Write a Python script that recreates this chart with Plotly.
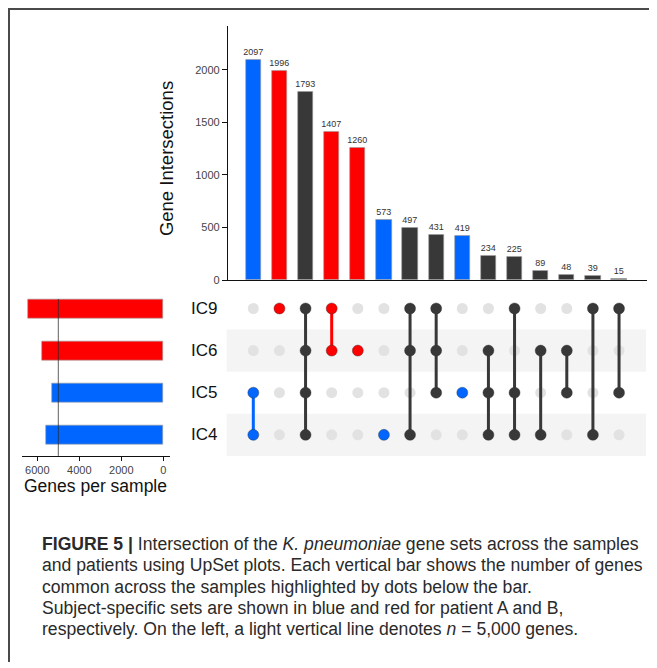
import plotly.graph_objects as go

# ---------------- data ----------------
intersection_sizes = [2097, 1996, 1793, 1407, 1260, 573, 497, 431, 419, 234, 225, 89, 48, 39, 15]
intersection_members = [
    ["IC5", "IC4"],
    ["IC9"],
    ["IC9", "IC6", "IC5", "IC4"],
    ["IC9", "IC6"],
    ["IC6"],
    ["IC4"],
    ["IC9", "IC6", "IC4"],
    ["IC9", "IC6", "IC5"],
    ["IC5"],
    ["IC6", "IC5", "IC4"],
    ["IC9", "IC5", "IC4"],
    ["IC6", "IC4"],
    ["IC6", "IC5"],
    ["IC9", "IC4"],
    ["IC9", "IC5"],
]
intersection_groups = ["A", "B", "shared", "B", "B", "A", "shared", "shared", "A",
                       "shared", "shared", "shared", "shared", "shared", "shared"]
set_names = ["IC4", "IC5", "IC6", "IC9"]          # bottom to top
set_sizes = [5585, 5285, 5790, 6430]
set_groups = ["A", "A", "B", "B"]
reference_n = 5000
top_ticks = [0, 500, 1000, 1500, 2000]
left_ticks = [0, 2000, 4000, 6000]

caption_lines = [
    "<b>FIGURE 5 |</b> Intersection of the <i>K. pneumoniae</i> gene sets across the samples",
    "and patients using UpSet plots. Each vertical bar shows the number of genes",
    "common across the samples highlighted by dots below the bar.",
    "Subject-specific sets are shown in blue and red for patient A and B,",
    "respectively. On the left, a light vertical line denotes <i>n</i> = 5,000 genes.",
]

# ---------------- style ----------------
OFF = 8                      # page body margin
W, H = 657 - OFF, 668 - OFF
COL = {"A": "#0066ff", "B": "#ff0000", "shared": "#383838"}
GRAY_DOT = "#e2e2e2"
BAND = "#f4f4f4"
FONT = "Liberation Sans, Arial, sans-serif"


def px(x):
    return (x - OFF) / W


def py(y):
    return 1 - (y - OFF) / H


cols = list(range(1, len(intersection_sizes) + 1))
xr = [0.031, 16.07]
xdom = [px(228), px(647)]

fig = go.Figure()

# top bars
fig.add_trace(go.Bar(
    x=cols, y=intersection_sizes,
    marker=dict(color=[COL[g] for g in intersection_groups], line=dict(color="#9a9a9a", width=0.6)),
    width=0.58,
    text=[str(v) for v in intersection_sizes], textposition="outside", constraintext="none",
    textfont=dict(size=9, color="#333333", family=FONT),
    cliponaxis=False, xaxis="x", yaxis="y", showlegend=False, hoverinfo="skip",
))

# matrix: grey background dots
gx, gy = [], []
for c, mem in zip(cols, intersection_members):
    for r, s in enumerate(set_names):
        if s not in mem:
            gx.append(c)
            gy.append(r)
fig.add_trace(go.Scatter(x=gx, y=gy, mode="markers",
                         marker=dict(size=11, color=GRAY_DOT),
                         xaxis="x2", yaxis="y2", showlegend=False, hoverinfo="skip"))

# matrix: connecting lines and member dots
for c, mem, g in zip(cols, intersection_members, intersection_groups):
    rows = [set_names.index(s) for s in mem]
    if len(rows) > 1:
        fig.add_trace(go.Scatter(x=[c, c], y=[min(rows), max(rows)], mode="lines",
                                 line=dict(color=COL[g], width=3),
                                 xaxis="x2", yaxis="y2", showlegend=False, hoverinfo="skip"))
    fig.add_trace(go.Scatter(x=[c] * len(rows), y=rows, mode="markers",
                             marker=dict(size=11, color=COL[g], line=dict(color="#333333", width=0.4)),
                             xaxis="x2", yaxis="y2", showlegend=False, hoverinfo="skip"))

# left set-size bars
fig.add_trace(go.Bar(
    x=set_sizes, y=list(range(len(set_names))), orientation="h",
    marker=dict(color=[COL[g] for g in set_groups], line=dict(color="#9a9a9a", width=0.6)),
    width=0.45, xaxis="x3", yaxis="y3", showlegend=False, hoverinfo="skip",
))

shapes = []
# row bands
for r in range(len(set_names)):
    if r % 2 == 0:
        shapes.append(dict(type="rect", xref="x2 domain", yref="y2", x0=-0.003, x1=0.998,
                           y0=r - 0.5, y1=r + 0.5, fillcolor=BAND, line=dict(width=0), layer="below"))
# reference line at n = 5000
shapes.append(dict(type="line", xref="x3", yref="y3", x0=reference_n, x1=reference_n,
                   y0=-0.5, y1=len(set_names) - 1 + 0.225,
                   line=dict(color="rgba(40,40,40,0.75)", width=1)))
# page frame lines
shapes.append(dict(type="line", xref="paper", yref="paper", x0=0, x1=1, y0=py(9), y1=py(9),
                   line=dict(color="#4a4a4a", width=2)))
shapes.append(dict(type="line", xref="paper", yref="paper", x0=px(9), x1=px(9), y0=py(8), y1=0,
                   line=dict(color="#4a4a4a", width=2)))

annotations = []
# set labels
for r, s in enumerate(set_names):
    annotations.append(dict(x=px(219), y=r, xref="paper", yref="y2", text=s, showarrow=False,
                            xanchor="right", yanchor="middle",
                            font=dict(size=17, color="#111111", family=FONT)))
# axis titles
annotations.append(dict(x=px(166.5), y=py(160), xref="paper", yref="paper", text="Gene Intersections",
                        textangle=-90, showarrow=False, xanchor="center", yanchor="middle",
                        font=dict(size=18.5, color="#111111", family=FONT)))
annotations.append(dict(x=px(95), y=py(490), xref="paper", yref="paper", text="Genes per sample",
                        showarrow=False, xanchor="center", yanchor="middle",
                        font=dict(size=17.5, color="#111111", family=FONT)))
# caption
cap_y = [549, 570.5, 592, 613.5, 635]
for t, yy in zip(caption_lines, cap_y):
    annotations.append(dict(x=px(40), y=py(yy), xref="paper", yref="paper", text=t, showarrow=False,
                            xanchor="left", yanchor="middle", align="left",
                            font=dict(size=17.6, color="#2a2a2a", family=FONT)))

fig.update_layout(
    width=W, height=H, margin=dict(l=0, r=0, t=0, b=0),
    paper_bgcolor="white", plot_bgcolor="rgba(0,0,0,0)",
    bargap=0, shapes=shapes, annotations=annotations,
    xaxis=dict(domain=xdom, range=xr, showticklabels=False, ticks="", showgrid=False,
               zeroline=False, showline=True, linecolor="#111111", linewidth=1.2, anchor="y"),
    yaxis=dict(domain=[py(282.5), py(26)], range=[0, 2420], tickvals=top_ticks,
               ticks="outside", ticklen=5, tickcolor="#111111", tickwidth=1,
               showline=True, linecolor="#111111", linewidth=1.2, showgrid=False, zeroline=False,
               tickfont=dict(size=11, color="#444444", family=FONT), anchor="x"),
    xaxis2=dict(domain=xdom, range=xr, visible=False, anchor="y2"),
    yaxis2=dict(domain=[py(460), py(290)], range=[-0.5, 3.5], visible=False, anchor="x2"),
    xaxis3=dict(domain=[px(22), px(170)], range=[6729, -319], tickvals=left_ticks,
                ticks="outside", ticklen=4, tickcolor="#111111", showline=True,
                linecolor="#111111", linewidth=1.2, showgrid=False, zeroline=False,
                tickfont=dict(size=11, color="#444444", family=FONT), anchor="y3"),
    yaxis3=dict(domain=[py(460), py(290)], range=[-0.5, 3.5], visible=False, anchor="x3"),
)

fig.write_html("out.html")
